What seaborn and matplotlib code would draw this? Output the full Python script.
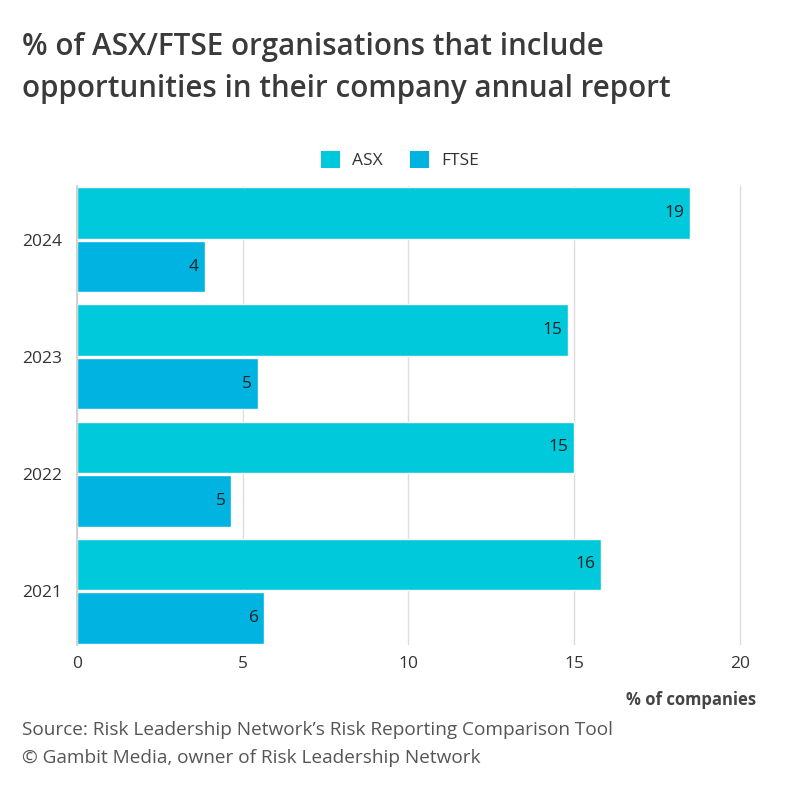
import matplotlib
matplotlib.use("Agg")
import matplotlib.pyplot as plt
import seaborn as sns
import pandas as pd
from matplotlib.patches import Patch

years = ["2024", "2023", "2022", "2021"]
asx = [18.5, 14.8, 15.0, 15.8]
ftse = [3.85, 5.45, 4.65, 5.65]
asx_labels = ["19", "15", "15", "16"]
ftse_labels = ["4", "5", "5", "6"]
series = ["ASX", "FTSE"]
colors = ["#00C9DB", "#00B3E0"]
xticks = [0, 5, 10, 15, 20]

sns.set_theme(style="white")
plt.rcParams['font.family'] = ['Open Sans', 'DejaVu Sans']

df = pd.DataFrame({
    "year": years * 2,
    "value": asx + ftse,
    "series": [series[0]] * 4 + [series[1]] * 4,
})

fig = plt.figure(figsize=(8, 8), dpi=100)
ax = fig.add_axes([0.09625, 0.19375, 0.837, 0.57375])
sns.barplot(data=df, y="year", x="value", hue="series", order=years,
            hue_order=series, palette=colors, orient="h", width=0.92,
            gap=0.05, ax=ax, legend=False, saturation=1)

for cont, labs in zip(ax.containers, [asx_labels, ftse_labels]):
    texts = ax.bar_label(cont, labels=labs, padding=-4, fontsize=12.5, color="#222222")
    for t in texts:
        t.set_ha("right")

ax.set_xlim(0, 20.2)
ax.set_ylim(3.46, -0.46)
ax.set_xticks(xticks)
ax.set_xticklabels([str(t) for t in xticks])
ax.grid(axis="x", color="#dddddd", linewidth=1)
ax.set_axisbelow(True)
for s in ["top", "right", "bottom"]:
    ax.spines[s].set_visible(False)
ax.spines["left"].set_color("#cccccc")
ax.tick_params(axis="both", length=0, labelsize=12.5, colors="#333333")
ax.tick_params(axis="x", pad=8)
ax.tick_params(axis="y", pad=11)
ax.set_ylabel("")
ax.set_xlabel("")

fig.text(0.945, 0.125, "% of companies", ha="right", va="center",
         fontsize=12, fontweight="bold", color="#444444")

fig.text(0.028, 0.915, "% of ASX/FTSE organisations that include\nopportunities in their company annual report",
         ha="left", va="center", fontsize=21.3, fontweight="semibold",
         color="#3a3a3a", linespacing=1.5)

handles = [Patch(facecolor=c, edgecolor="none") for c in colors]
fig.legend(handles, series, loc="center", bbox_to_anchor=(0.5, 0.8), ncol=2,
           frameon=False, fontsize=12.5, handlelength=1.1, handleheight=1.1,
           columnspacing=1.6, handletextpad=0.7, labelcolor="#333333")

fig.text(0.028, 0.088, "Source: Risk Leadership Network\u2019s Risk Reporting Comparison Tool",
         ha="left", va="center", fontsize=13.7, color="#555555")
fig.text(0.028, 0.053, "\u00a9 Gambit Media, owner of Risk Leadership Network",
         ha="left", va="center", fontsize=13.7, color="#555555")

fig.savefig("out.png", dpi=100)
